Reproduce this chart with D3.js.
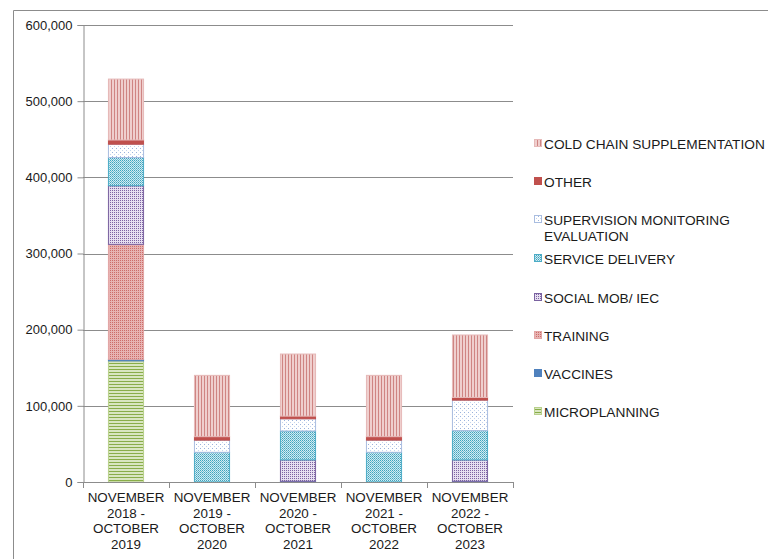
<!DOCTYPE html>
<html lang="en">
  <head>
    <meta charset="UTF-8" />
    <title>Funding by activity</title>
    <script src="https://d3js.org/d3.v7.min.js"></script>
    <style>
      body { margin: 0; background: #fff; }
      text { font-family: "Liberation Sans", Arial, sans-serif; fill: #1a1a1a; }
    </style>
  </head>
  <body>
    <svg width="768" height="559"></svg>

    <script>
      // periods on the x axis
      const periods = [
        ["NOVEMBER", "2018 -", "OCTOBER", "2019"],
        ["NOVEMBER", "2019 -", "OCTOBER", "2020"],
        ["NOVEMBER", "2020 -", "OCTOBER", "2021"],
        ["NOVEMBER", "2021 -", "OCTOBER", "2022"],
        ["NOVEMBER", "2022 -", "OCTOBER", "2023"]
      ];

      // stack order, bottom to top
      const seriesNames = [
        "MICROPLANNING", "VACCINES", "TRAINING", "SOCIAL MOB/ IEC",
        "SERVICE DELIVERY", "SUPERVISION MONITORING EVALUATION",
        "OTHER", "COLD CHAIN SUPPLEMENTATION"
      ];

      const microplanning = [159000, 0, 0, 0, 0];
      const vaccines      = [2000, 0, 1000, 0, 1000];
      const training      = [151000, 0, 0, 0, 0];
      const socialMob     = [77000, 0, 28000, 0, 28000];
      const serviceDel    = [37000, 39000, 38000, 39000, 38500];
      const supervision   = [17500, 16000, 16000, 16000, 40000];
      const other         = [5500, 4500, 3500, 4500, 3500];
      const coldChain     = [80000, 80500, 81500, 80500, 82000];

      const yTicks = [0, 100000, 200000, 300000, 400000, 500000, 600000];

      const seriesValues = [microplanning, vaccines, training, socialMob,
        serviceDel, supervision, other, coldChain];

      // table for d3.stack
      const table = periods.map((p, i) => {
        const row = { idx: i };
        seriesNames.forEach((s, k) => row[s] = seriesValues[k][i]);
        return row;
      });

      const svg = d3.select("svg");
      const defs = svg.append("defs");

      // excel-ish fill patterns
      function pat(id, w, h, bg, draw) {
        const p = defs.append("pattern").attr("id", id)
          .attr("patternUnits", "userSpaceOnUse").attr("width", w).attr("height", h);
        p.append("rect").attr("width", w).attr("height", h).attr("fill", bg);
        draw(p);
      }
      pat("p-cold", 3, 3, "#efcfce", p => {
        p.append("rect").attr("width", 1).attr("height", 3).attr("fill", "#cf8583");
      });
      pat("p-super", 4, 4, "#ffffff", p => {
        p.append("rect").attr("x", 0).attr("y", 0).attr("width", 1).attr("height", 1).attr("fill", "#9ab2dc");
        p.append("rect").attr("x", 2).attr("y", 2).attr("width", 1).attr("height", 1).attr("fill", "#c5d4ec");
      });
      pat("p-service", 2, 2, "#d2eaf1", p => {
        p.append("rect").attr("width", 1).attr("height", 1).attr("fill", "#3fa3bd");
        p.append("rect").attr("x", 1).attr("y", 1).attr("width", 1).attr("height", 1).attr("fill", "#6fbed2");
      });
      pat("p-social", 2, 2, "#e6dff0", p => {
        p.append("rect").attr("width", 1).attr("height", 1).attr("fill", "#7d62a2");
      });
      pat("p-train", 2, 2, "#e7b3b2", p => {
        p.append("rect").attr("width", 1).attr("height", 1).attr("fill", "#cc6c69");
      });
      pat("p-micro", 3, 3, "#d9e6c1", p => {
        p.append("rect").attr("width", 3).attr("height", 1).attr("fill", "#89ad49");
      });

      const fills = {
        "MICROPLANNING": "url(#p-micro)",
        "VACCINES": "#4f81bd",
        "TRAINING": "url(#p-train)",
        "SOCIAL MOB/ IEC": "url(#p-social)",
        "SERVICE DELIVERY": "url(#p-service)",
        "SUPERVISION MONITORING EVALUATION": "url(#p-super)",
        "OTHER": "#c0504d",
        "COLD CHAIN SUPPLEMENTATION": "url(#p-cold)"
      };
      const strokes = {
        "MICROPLANNING": "#b8d08c",
        "VACCINES": "#4f81bd",
        "TRAINING": "#e2a5a4",
        "SOCIAL MOB/ IEC": "#7a62a0",
        "SERVICE DELIVERY": "#4bacc6",
        "SUPERVISION MONITORING EVALUATION": "#a9bde0",
        "OTHER": "#c0504d",
        "COLD CHAIN SUPPLEMENTATION": "#e6b9b8"
      };

      // outer frame
      svg.append("path").attr("d", "M13.5,559V10.5H768")
        .attr("fill", "none").attr("stroke", "#8c8c8c");

      const plotLeft = 83, plotRight = 513, plotTop = 25, plotBottom = 482;

      const x = d3.scaleBand().domain(d3.range(periods.length))
        .range([plotLeft, plotRight]).paddingInner(0.58).paddingOuter(0.29);
      const y = d3.scaleLinear().domain([0, 600000]).range([plotBottom, plotTop]);

      // gridlines
      svg.append("g").selectAll("line").data(yTicks.slice(1)).join("line")
        .attr("x1", plotLeft).attr("x2", plotRight)
        .attr("y1", d => Math.round(y(d)) + 0.5).attr("y2", d => Math.round(y(d)) + 0.5)
        .attr("stroke", "#8c8c8c");

      // bars
      const stacked = d3.stack().keys(seriesNames)(table);
      svg.append("g").selectAll("g").data(stacked).join("g")
        .attr("fill", d => fills[d.key]).attr("stroke", d => strokes[d.key])
        .selectAll("rect").data(d => d.filter(v => v[1] - v[0] > 0)).join("rect")
        .attr("x", d => x(d.data.idx) + 0.5)
        .attr("width", x.bandwidth() - 1)
        .attr("y", d => y(d[1]))
        .attr("height", d => y(d[0]) - y(d[1]));

      // y axis
      const yAxis = svg.append("g").attr("transform", `translate(${plotLeft + 0.5},0)`)
        .call(d3.axisLeft(y).tickValues(yTicks).tickSize(6).tickPadding(5)
          .tickFormat(d3.format(",")));
      yAxis.selectAll("line, path").attr("stroke", "#8c8c8c");
      yAxis.selectAll("text").style("font-size", "13px")
        .style("font-family", "Liberation Sans, Arial, sans-serif").attr("fill", "#1a1a1a");

      // x axis with band boundary ticks
      const xg = svg.append("g");
      xg.append("line").attr("x1", plotLeft).attr("x2", plotRight)
        .attr("y1", plotBottom + 0.5).attr("y2", plotBottom + 0.5).attr("stroke", "#8c8c8c");
      xg.selectAll("line.tk").data(d3.range(periods.length + 1)).join("line")
        .attr("class", "tk")
        .attr("x1", i => Math.round(plotLeft + i * x.step()) + 0.5)
        .attr("x2", i => Math.round(plotLeft + i * x.step()) + 0.5)
        .attr("y1", plotBottom).attr("y2", plotBottom + 6).attr("stroke", "#8c8c8c");

      xg.selectAll("text.lbl").data(periods).join("text")
        .attr("class", "lbl")
        .attr("text-anchor", "middle")
        .style("font-size", "13.4px")
        .attr("transform", (d, i) => `translate(${x(i) + x.bandwidth() / 2},502)`)
        .selectAll("tspan").data(d => d).join("tspan")
        .attr("x", 0).attr("dy", (d, j) => j === 0 ? 0 : 15.6)
        .text(d => d);

      // legend, top to bottom
      const legendItems = [
        { name: "COLD CHAIN SUPPLEMENTATION", lines: ["COLD CHAIN SUPPLEMENTATION"], y: 144 },
        { name: "OTHER", lines: ["OTHER"], y: 182 },
        { name: "SUPERVISION MONITORING EVALUATION", lines: ["SUPERVISION MONITORING", "EVALUATION"], y: 220 },
        { name: "SERVICE DELIVERY", lines: ["SERVICE DELIVERY"], y: 259 },
        { name: "SOCIAL MOB/ IEC", lines: ["SOCIAL MOB/ IEC"], y: 298 },
        { name: "TRAINING", lines: ["TRAINING"], y: 336 },
        { name: "VACCINES", lines: ["VACCINES"], y: 374 },
        { name: "MICROPLANNING", lines: ["MICROPLANNING"], y: 412 }
      ];
      const lg = svg.append("g").selectAll("g").data(legendItems).join("g")
        .attr("transform", d => `translate(534,${d.y})`);
      lg.append("rect").attr("x", 0.5).attr("y", -4.5).attr("width", 7).attr("height", 7)
        .attr("fill", d => fills[d.name]).attr("stroke", d => strokes[d.name]);
      lg.append("text").style("font-size", "13.7px")
        .selectAll("tspan").data(d => d.lines).join("tspan")
        .attr("x", 10).attr("dy", (d, j) => j === 0 ? "0.35em" : 16)
        .text(d => d);
    </script>
  </body>
</html>
